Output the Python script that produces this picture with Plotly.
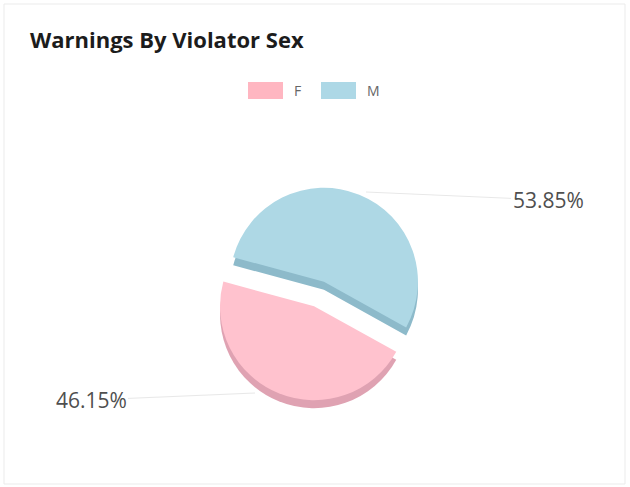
import plotly.graph_objects as go

# Warning counts by violator sex
categories = ["F", "M"]
warnings = [6, 7]
top_colors = ["#FFC2CE", "#AED8E5"]
side_colors = ["#DFA2B2", "#8DBACA"]
legend_colors = ["#FFB6C1", "#ADD8E6"]

W, H = 630, 487
cx, cy, radius, pull = 319, 294, 94, 0.14
depth = 8  # extrusion of the pie, px

box = 2 * radius * (1 + pull)


def domain(dy=0):
    x0 = (cx - box / 2) / W
    y_mid = (H - cy - dy) / H
    return dict(x=[x0, x0 + box / W], y=[y_mid - box / 2 / H, y_mid + box / 2 / H])


def pie(colors, dy):
    return go.Pie(
        labels=categories,
        values=warnings,
        sort=False,
        direction="counterclockwise",
        rotation=119,
        pull=[pull, pull],
        marker=dict(colors=colors, line=dict(width=0)),
        textinfo="none",
        hoverinfo="label+percent",
        showlegend=False,
        domain=domain(dy),
    )


fig = go.Figure([pie(side_colors, depth), pie(top_colors, 0)])

total = sum(warnings)
pct_text = [f"{v / total * 100:.2f}%" for v in warnings]

# label anchors: (tip x, tip y, text x, text y) in pixels from top-left
label_pos = {"F": (255, 393, 91, 400), "M": (366, 192, 548, 200)}

annotations = []
shapes = []
for cat, txt in zip(categories, pct_text):
    tx, ty, lx, ly = label_pos[cat]
    annotations.append(dict(
        x=tx / W, y=1 - ty / H, xref="paper", yref="paper",
        ax=lx - tx, ay=ly - ty, axref="pixel", ayref="pixel",
        text=txt, showarrow=True, arrowhead=0, arrowwidth=1,
        arrowcolor="#E8E8E8", standoff=0,
        font=dict(family="Open Sans", size=21, color="#4F4F4F"),
    ))

# legend row
leg_x = [248, 321]
for cat, col, lx in zip(categories, legend_colors, leg_x):
    shapes.append(dict(
        type="rect", xref="paper", yref="paper",
        x0=lx / W, x1=(lx + 35) / W, y0=1 - 99 / H, y1=1 - 82 / H,
        fillcolor=col, line=dict(width=0),
    ))
    annotations.append(dict(
        x=(lx + 44) / W, y=1 - 90.5 / H, xref="paper", yref="paper",
        text=cat, showarrow=False, xanchor="left", yanchor="middle",
        font=dict(family="Open Sans", size=14, color="#666666"),
    ))

# card border
shapes.append(dict(
    type="rect", xref="paper", yref="paper",
    x0=4 / W, x1=625 / W, y0=1 - 484 / H, y1=1 - 4 / H,
    line=dict(color="#EBEBEB", width=1), fillcolor="rgba(0,0,0,0)",
    layer="below",
))

fig.update_layout(
    width=W, height=H,
    margin=dict(l=0, r=0, t=0, b=0),
    paper_bgcolor="white", plot_bgcolor="white",
    title=dict(
        text="<b>Warnings By Violator Sex</b>",
        x=30 / W, xanchor="left", y=1 - 40 / H, yanchor="middle",
        font=dict(family="Open Sans", size=22, color="#1C1C1C"),
    ),
    annotations=annotations,
    shapes=shapes,
)

fig.write_html("out.html")
